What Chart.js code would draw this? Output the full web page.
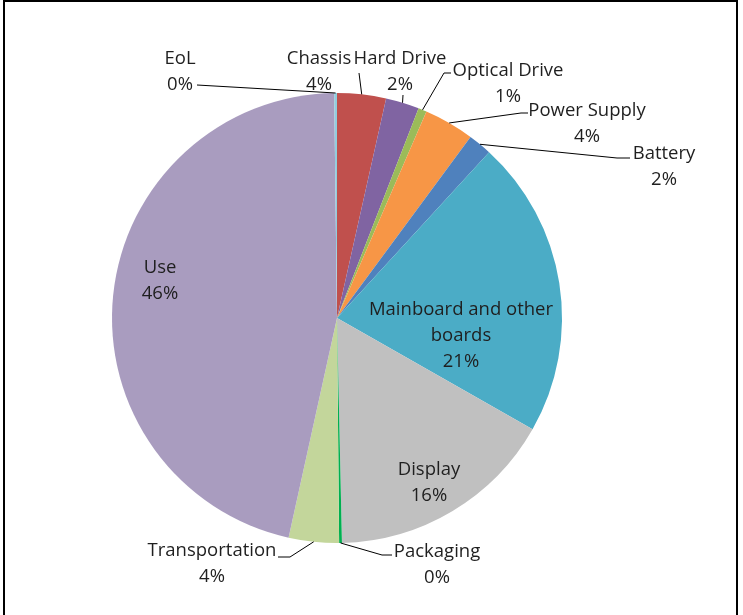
<!DOCTYPE html>
<html>
<head>
<meta charset="utf-8">
<script src="https://cdn.jsdelivr.net/npm/chart.js@4.4.0/dist/chart.umd.min.js"></script>
<style>
  body { margin: 0; background: #fff; }
  #wrap { position: relative; width: 743px; height: 615px; }
  #frame {
    position: absolute; left: 3px; top: 0; width: 731px; height: 620px;
    border: 2px solid #000; border-bottom: none; pointer-events: none;
  }
</style>
</head>
<body>
<div id="wrap">
  <canvas id="myChart" width="743" height="615"></canvas>
  <div id="frame"></div>
</div>
<script>
const categories = ['Chassis', 'Hard Drive', 'Optical Drive', 'Power Supply', 'Battery',
  'Mainboard and other boards', 'Display', 'Packaging', 'Transportation', 'Use', 'EoL'];
const shares = [3.5, 2.4, 0.6, 3.6, 1.7, 21.4, 16.4, 0.2, 3.6, 46.3, 0.2];

const colors = ['#c0504d', '#8064a2', '#9bbb59', '#f79646', '#4f81bd',
  '#4bacc6', '#c0c0c0', '#00b050', '#c3d69b', '#a99cbf', '#93cddd'];

// where each label sits, relative to the pie centre (px); anchor = where the leader line ends
const labelSpots = [
  { dx: -18, dy: -248, ax: 40, ay: 3, elbow: 0 },
  { dx: 63, dy: -248, ax: 3, ay: 25, elbow: 0 },
  { dx: 171, dy: -236, ax: -57, ay: -9, elbow: 7 },
  { dx: 250, dy: -196, ax: -59, ay: -9, elbow: 7 },
  { dx: 327, dy: -153, ax: -34, ay: -7, elbow: 13 },
  { dx: 124, dy: 16, inside: true },
  { dx: 92, dy: 163, inside: true },
  { dx: 100, dy: 245, ax: -45, ay: -8, elbow: 10 },
  { dx: -125, dy: 244, ax: 66, ay: -5, elbow: 12 },
  { dx: -177, dy: -39, inside: true },
  { dx: -157, dy: -248, ax: 17, ay: 15, elbow: 0 }
];

const FONT = '18.5px "Open Sans"';
const LINE_H = 26;
const TEXT_NUDGE = 1.5; // Open Sans sits a bit high with 'middle' baseline

const wrapText = (ctx, text, maxW) => {
  const words = text.split(' ');
  const lines = [];
  let cur = '';
  words.forEach(w => {
    const test = cur ? cur + ' ' + w : w;
    if (ctx.measureText(test).width > maxW && cur) {
      lines.push(cur);
      cur = w;
    } else {
      cur = test;
    }
  });
  lines.push(cur);
  return lines;
};

const pieLabels = {
  id: 'pieLabels',
  afterDatasetsDraw(chart) {
    const ctx = chart.ctx;
    const meta = chart.getDatasetMeta(0);
    const data = chart.data.datasets[0].data;
    const total = data.reduce((a, b) => a + b, 0);
    ctx.save();
    ctx.font = FONT;
    ctx.textAlign = 'center';
    ctx.textBaseline = 'middle';
    meta.data.forEach((arc, i) => {
      const p = arc.getProps(['x', 'y', 'startAngle', 'endAngle', 'outerRadius'], true);
      const spot = labelSpots[i];
      const lx = p.x + spot.dx;
      const ly = p.y + spot.dy;
      const lines = wrapText(ctx, chart.data.labels[i], 200);
      lines.push(Math.round(data[i] / total * 100) + '%');
      const top = ly - (lines.length - 1) * LINE_H / 2 + TEXT_NUDGE;

      if (!spot.inside) {
        const mid = (p.startAngle + p.endAngle) / 2;
        const sx = p.x + Math.cos(mid) * p.outerRadius;
        const sy = p.y + Math.sin(mid) * p.outerRadius;
        const ex = lx + spot.ax;
        const ey = ly + spot.ay;
        const dir = Math.sign(sx - ex);
        ctx.strokeStyle = '#000';
        ctx.lineWidth = 1;
        ctx.beginPath();
        ctx.moveTo(sx, sy);
        ctx.lineTo(ex + dir * spot.elbow, ey);
        ctx.lineTo(ex, ey);
        ctx.stroke();
      }

      ctx.fillStyle = '#1f1f1f';
      lines.forEach((t, k) => ctx.fillText(t, lx, top + k * LINE_H));
    });
    ctx.restore();
  }
};

const ctx = document.getElementById('myChart');

new Chart(ctx, {
  type: 'pie',
  data: {
    labels: categories,
    datasets: [{
      data: shares,
      backgroundColor: colors,
      borderWidth: 0
    }]
  },
  options: {
    responsive: false,
    animation: false,
    layout: {
      padding: { left: 112, right: 181, top: 93, bottom: 72 }
    },
    plugins: {
      legend: { display: false },
      tooltip: { enabled: false }
    }
  },
  plugins: [pieLabels]
});
</script>
</body>
</html>
